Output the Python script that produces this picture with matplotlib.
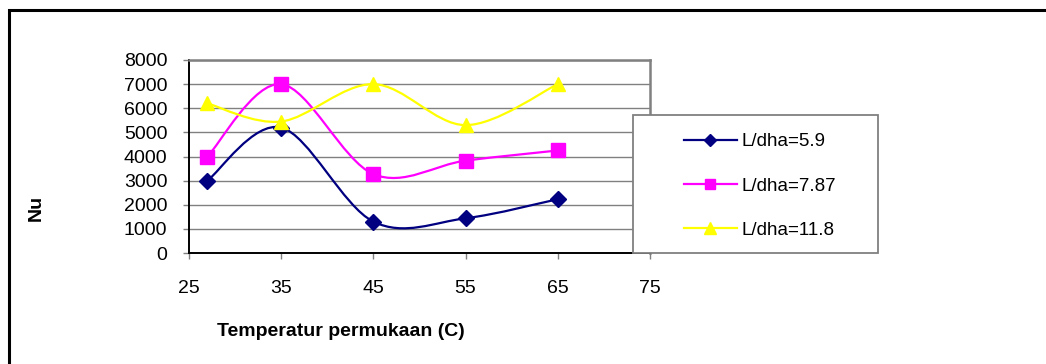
import matplotlib
matplotlib.use("Agg")
import matplotlib.pyplot as plt
from matplotlib.path import Path
from matplotlib.patches import PathPatch, Rectangle
from matplotlib.lines import Line2D

plt.rcParams['font.family'] = ['Liberation Sans', 'DejaVu Sans']

temps = [27, 35, 45, 55, 65]
nu_59 = [3000, 5200, 1300, 1440, 2230]
nu_787 = [4000, 7000, 3270, 3830, 4250]
nu_118 = [6200, 5450, 7000, 5300, 7000]
labels = ['L/dha=5.9', 'L/dha=7.87', 'L/dha=11.8']
colors = ['#000080', '#FF00FF', '#FFFF00']
markers = ['D', 's', '^']
msizes = [8, 9.5, 10]
xticks = [25, 35, 45, 55, 65, 75]
yticks = [0, 1000, 2000, 3000, 4000, 5000, 6000, 7000, 8000]

W, H = 1046, 364
fig = plt.figure(figsize=(W / 100, H / 100), dpi=100)
ax = fig.add_axes([189 / W, 1 - 253 / H, (650 - 189) / W, (253 - 60) / H])


def smooth_path(xs, ys):
    pts = list(zip(xs, ys))
    n = len(pts)
    verts = [pts[0]]
    codes = [Path.MOVETO]
    for i in range(n - 1):
        p0 = pts[i - 1] if i > 0 else pts[i]
        p1 = pts[i]
        p2 = pts[i + 1]
        p3 = pts[i + 2] if i + 2 < n else pts[i + 1]
        c1 = (p1[0] + (p2[0] - p0[0]) / 6, p1[1] + (p2[1] - p0[1]) / 6)
        c2 = (p2[0] - (p3[0] - p1[0]) / 6, p2[1] - (p3[1] - p1[1]) / 6)
        verts += [c1, c2, p2]
        codes += [Path.CURVE4] * 3
    return Path(verts, codes)


series = [nu_59, nu_787, nu_118]
handles = []
for ys, c, m, ms, lab in zip(series, colors, markers, msizes, labels):
    ax.add_patch(PathPatch(smooth_path(temps, ys), fill=False, edgecolor=c,
                           lw=1.6, zorder=3))
    ax.plot(temps, ys, linestyle='none', marker=m, markersize=ms,
            color=c, markeredgecolor=c, zorder=4, clip_on=False)
    handles.append(Line2D([], [], color=c, lw=1.6, marker=m,
                          markersize=ms * 0.8, markeredgecolor=c))

ax.set_xlim(25, 75)
ax.set_ylim(0, 8000)
ax.set_xticks(xticks)
ax.set_yticks(yticks)
ax.tick_params(axis='both', direction='out', length=4.5, width=1,
               color='#808080', labelsize=14)
ax.tick_params(axis='y', pad=11)
ax.tick_params(axis='x', pad=15)
ax.grid(axis='y', color='#808080', lw=1)
ax.set_axisbelow(True)
ax.spines['left'].set_color('black')
ax.spines['bottom'].set_color('black')
ax.spines['left'].set_linewidth(1.4)
ax.spines['bottom'].set_linewidth(1.4)
ax.spines['top'].set_color('#808080')
ax.spines['right'].set_color('#808080')
ax.spines['top'].set_linewidth(1.8)
ax.spines['right'].set_linewidth(1.8)

fig.text(341 / W, 1 - 332 / H, 'Temperatur permukaan (C)', ha='center',
         va='center', fontsize=14, fontweight='bold')
fig.text(36 / W, 1 - 208 / H, 'Nu', ha='center', va='center',
         fontsize=14, fontweight='bold', rotation=90)

# legend box
fig.patches.append(Rectangle((633 / W, 1 - 253 / H), (878 - 633) / W,
                             (253 - 115) / H, transform=fig.transFigure,
                             facecolor='white', edgecolor='#808080', lw=1.3,
                             zorder=5))
leg = fig.legend(handles, labels, loc='center left',
                 bbox_to_anchor=(684 / W, 1 - 186 / H), frameon=False,
                 fontsize=13.5, handlelength=2.8, handletextpad=0.25,
                 labelspacing=1.45, borderpad=0, borderaxespad=0)
leg.set_zorder(6)

# outer frame
fig.add_artist(Line2D([9 / W, 9 / W, 1.0], [0, 1 - 10 / H, 1 - 10 / H],
                      transform=fig.transFigure, color='black', lw=2.2,
                      solid_joinstyle='miter'))

fig.savefig('out.png', dpi=100)
